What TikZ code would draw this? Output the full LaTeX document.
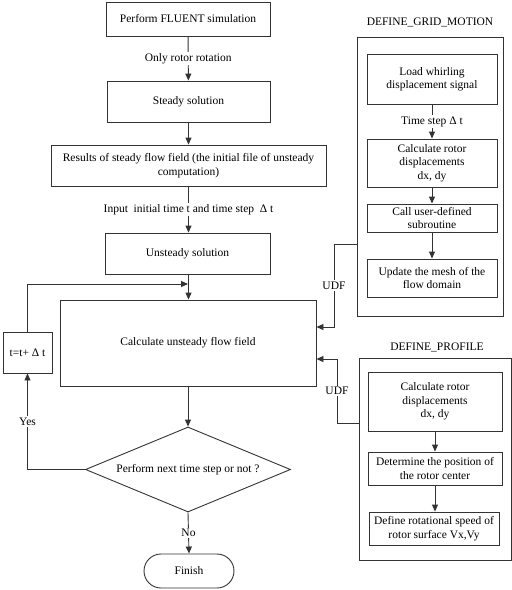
\documentclass[tikz,border=0pt]{standalone}
\usepackage{fontspec}
\setmainfont{Liberation Serif}
\usetikzlibrary{arrows.meta,shapes.geometric,shapes.misc}
\begin{document}
\begin{tikzpicture}[x=1pt,y=-1pt,
  every node/.style={font=\fontsize{11.5}{13.5}\selectfont, text=black},
  box/.style={draw=black!80, line width=0.9pt, align=center, inner sep=1pt},
  conn/.style={draw=black!80, line width=0.9pt},
  arr/.style={conn, -{Triangle[length=7pt,width=6pt]}},
  lbl/.style={fill=white, inner sep=1.5pt}]
\useasboundingbox (0,0) rectangle (512,590);
% main column
\node[box, minimum width=164pt, minimum height=34pt] (b1) at (188,19) {Perform FLUENT simulation};
\node[box, minimum width=163pt, minimum height=41pt] (b2) at (188.5,101.5) {Steady solution};
\node[box, minimum width=275pt, minimum height=41pt] (b3) at (188.5,165.5) {Results of steady flow field (the initial file of unsteady\\computation)};
\node[box, minimum width=165pt, minimum height=41pt] (b4) at (187.5,253.5) {Unsteady solution};
\node[box, minimum width=256pt, minimum height=86pt] (calc) at (188,343) {Calculate unsteady flow field};
\node[box, minimum width=49pt, minimum height=41pt] (tb) at (27.5,352.5) {t=t+ Δ t};
\node[box, diamond, aspect=2.4, inner sep=0pt, minimum width=205pt, minimum height=85pt] (dec) at (188,469.5) {Perform next time step or not ?};
\node[box, rounded rectangle, minimum width=92pt, minimum height=34pt] (fin) at (189,571) {Finish};
\draw[arr] (b1) -- node[lbl]{Only rotor rotation} (b2);
\draw[arr] (b2) -- (b3);
\draw[arr] (b3.south -| b2) -- node[lbl]{Input\ \ initial time t and time step \ Δ t} (b4.north -| b2);
\draw[arr] (b4.south -| b2) -- (calc.north -| b2);
\draw[arr] (calc.south) -- (dec.north);
\draw[arr] (dec.south) -- node[lbl]{No} (fin.north);
\draw[arr] (dec.west) -| node[pos=0.75, lbl]{Yes} (tb.south);
\coordinate (fb) at (188,284);
\draw[arr] (tb.north) |- (fb);
% DEFINE_GRID_MOTION
\node (dgm) at (430,22) {DEFINE\_GRID\_MOTION};
\node[box, minimum width=146pt, minimum height=279pt] (o1) at (430,176.5) {};
\node[box, minimum width=130pt, minimum height=50pt] (ga) at (432,79) {Load whirling\\displacement signal};
\node[box, minimum width=130pt, minimum height=48pt] (gb) at (432,163) {Calculate rotor\\displacements\\dx, dy};
\node[box, minimum width=130pt, minimum height=28pt] (gc) at (432,218) {Call user-defined\\subroutine};
\node[box, minimum width=130pt, minimum height=38pt] (gd) at (432,278) {Update the mesh of the\\flow domain};
\draw[arr] (ga) -- node[lbl]{Time step Δ t} (gb);
\draw[arr] (gb) -- (gc);
\draw[arr] (gc) -- (gd);
% DEFINE_PROFILE
\node (dp) at (437,347) {DEFINE\_PROFILE};
\node[box, minimum width=152pt, minimum height=202pt] (o2) at (435,459) {};
\node[box, minimum width=134pt, minimum height=59pt] (pa) at (435,401.5) {Calculate rotor\\displacements\\dx, dy};
\node[box, minimum width=134pt, minimum height=33pt] (pb) at (435,468.5) {Determine the position of\\the rotor center};
\node[box, minimum width=130pt, minimum height=33pt] (pc) at (434,528.5) {Define rotational speed of\\rotor surface Vx,Vy};
\draw[arr] (pa) -- (pb);
\draw[arr] (pb.south -| pa) -- (pc.north -| pa);
% UDF connectors
\coordinate (u1a) at (334,244);
\coordinate (u1b) at (334,327);
\draw[arr] (o1.west |- u1a) -- (u1a) -- node[lbl]{UDF} (u1b) -- (calc.east |- u1b);
\coordinate (u2a) at (337,423);
\coordinate (u2b) at (337,359);
\draw[arr] (o2.west |- u2a) -- (u2a) -- node[lbl]{UDF} (u2b) -- (calc.east |- u2b);
\end{tikzpicture}
\end{document}
